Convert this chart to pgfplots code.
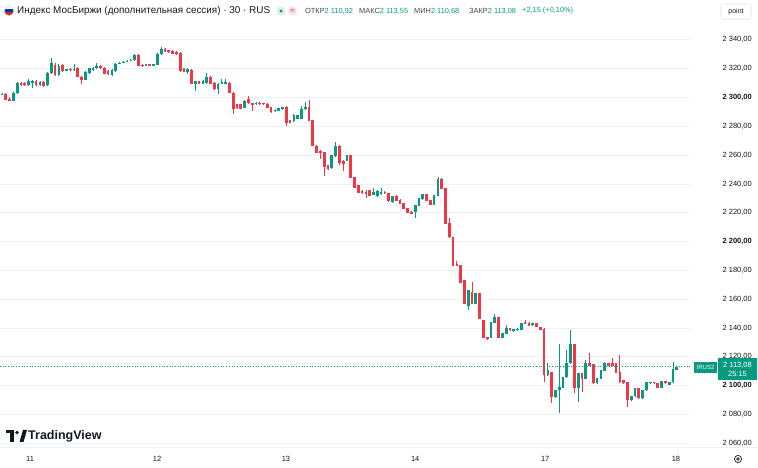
\documentclass[border=0pt]{standalone}
\usepackage{fontspec}
\setmainfont{Liberation Sans}
\usepackage{pgfplots}
\pgfplotsset{compat=1.18}
\usepackage{pgfplotstable}
\definecolor{up}{HTML}{089981}
\definecolor{dn}{HTML}{F23645}
\definecolor{txt}{HTML}{131722}
\definecolor{grd}{HTML}{EEF1F6}
\definecolor{lbl}{HTML}{434651}
\definecolor{rublue}{HTML}{0039A6}
\definecolor{rured}{HTML}{D52B1E}
\definecolor{upbg}{HTML}{D9F0EC}
\definecolor{dnbg}{HTML}{FCE3E6}

\pgfplotstableread{
i o h l c
0 2302 2303 2301.5 2302.5
1 2302.5 2303 2298 2298.5
2 2299 2300 2297.5 2297.8
3 2298 2303.5 2297.5 2303
4 2303 2311 2302.5 2310.2
5 2310.2 2311 2308.3 2308.8
6 2310 2311 2308.3 2308.8
7 2308.8 2312.5 2308 2311.6
8 2310 2312.3 2306.7 2311
9 2311 2311.8 2308.3 2308.8
10 2308.8 2311.5 2308 2310.8
11 2310.8 2311.5 2307 2308
12 2308.5 2317.5 2308 2317.1
13 2317.1 2327.5 2316.5 2324.1
14 2322.7 2324 2315 2315.7
15 2315.7 2323 2315 2322
16 2322.7 2323.5 2318 2318.5
17 2318.8 2320 2318.3 2319.5
18 2319.5 2320.2 2318.6 2319
19 2319 2323.4 2318.5 2319.5
20 2320 2321 2314 2314.4
21 2314.4 2315 2309.5 2312
22 2312.5 2318.5 2312 2317.8
23 2317.1 2320.5 2316.5 2320
24 2319 2321 2318.5 2320.6
25 2320.6 2324.1 2320 2322
26 2322 2322.6 2320 2320.6
27 2320.6 2321 2316 2316.4
28 2318.5 2319 2315.5 2316.4
29 2315.7 2319.8 2315.2 2319.2
30 2318.5 2324 2318 2323.4
31 2323.4 2324.6 2323 2324.1
32 2324.1 2325.2 2323.6 2324.8
33 2324.8 2325.8 2324.4 2325.4
34 2325.4 2326.5 2325 2326.1
35 2326 2330 2325.5 2329.3
36 2329.6 2330.2 2321.5 2322.2
37 2322.7 2323.2 2321.2 2322.2
38 2322.2 2323 2322 2322.8
39 2322.8 2323.3 2322.1 2322.3
40 2322.3 2323.5 2322 2322.9
41 2322.9 2330.8 2322.5 2330.3
42 2330.3 2335.1 2329.8 2333.8
43 2333.8 2334.5 2331.5 2332
44 2332.5 2333.2 2331 2331.5
45 2332 2332.7 2330 2330.5
46 2331.5 2332 2329.6 2330
47 2331 2331.5 2318 2318.5
48 2320 2320.5 2317.5 2318
49 2318 2320.5 2316.4 2319.5
50 2319 2319.5 2309 2309.5
51 2309.5 2311.6 2304.7 2311
52 2311 2311.6 2309 2309.5
53 2309.5 2312 2309 2311.5
54 2310 2317 2309.6 2314.4
55 2314 2314.6 2309 2309.5
56 2310 2310.5 2305.5 2306
57 2306 2310 2302.6 2309.5
58 2309.5 2313 2309 2310.5
59 2309.5 2313 2309 2310.5
60 2310 2310.5 2302.8 2303.3
61 2303.3 2303.8 2288.7 2292.2
62 2295 2295.5 2292 2292.5
63 2295 2295.5 2291.7 2292.2
64 2293 2298.2 2292.5 2297.7
65 2299 2301 2295.5 2296
66 2296 2296.5 2290.8 2295
67 2295.5 2296.6 2295 2296
68 2296 2296.6 2295 2295.5
69 2296 2296.5 2295 2295.5
70 2295.5 2296 2292.5 2293
71 2293 2293.5 2289.5 2290
72 2290.5 2292 2290 2291.5
73 2291 2293 2290.5 2292.5
74 2292 2293.6 2291.5 2293
75 2293 2294 2280 2282.5
76 2284 2284.5 2282 2282.5
77 2283.5 2288.5 2283 2288
78 2285.5 2288 2285 2287.5
79 2285.3 2294.3 2285 2292.2
80 2292 2297 2291.5 2293.5
81 2293.5 2298.5 2283.5 2283.9
82 2283.9 2284.3 2266 2266.5
83 2266.5 2267 2261.2 2261.7
84 2263 2263.5 2257.5 2261.5
85 2261.7 2262.2 2245.8 2252
86 2252.7 2253.2 2250 2250.6
87 2251 2260 2250.5 2259.6
88 2259.6 2269.3 2259 2266.5
89 2266.5 2267 2253 2254.8
90 2256 2256.5 2249 2254
91 2256.1 2260.2 2255.6 2259.6
92 2259.6 2260.1 2244 2244.4
93 2244.4 2244.9 2237 2237.4
94 2238.8 2239.3 2233.5 2234
95 2235 2235.5 2233 2233.5
96 2234 2236 2230.5 2233
97 2235.4 2235.9 2231.5 2232
98 2232.7 2237.5 2232.2 2234.4
99 2231.6 2235.5 2231.1 2235
100 2233 2237 2232.5 2234.5
101 2234.5 2235 2233 2233.5
102 2233.5 2234 2227.5 2228
103 2227.5 2231.9 2227 2231.4
104 2231.5 2232 2228 2228.5
105 2229 2229.5 2225.8 2226.3
106 2226.3 2226.8 2222.4 2222.9
107 2222.9 2223.4 2219.5 2220
108 2220.5 2221 2219 2219.5
109 2220.8 2225.5 2216.6 2225
110 2225 2230.3 2224.5 2229.8
111 2229.5 2233.1 2229 2232.6
112 2232.6 2233.1 2227.9 2228.4
113 2228.4 2228.9 2225.1 2225.6
114 2225.6 2232.4 2225.1 2231.9
115 2231.9 2245 2231.4 2243.5
116 2243.5 2244 2236.3 2236.8
117 2236.8 2237.3 2212 2212.5
118 2212.5 2216 2202.5 2203
119 2203 2203.5 2183 2183.4
120 2184.5 2186.8 2183 2183.4
121 2183.4 2183.9 2171.1 2171.6
122 2173 2173.5 2156.5 2157
123 2155.7 2166.6 2152.2 2166.1
124 2164.7 2171.6 2156.5 2157
125 2157 2164.5 2156.5 2164
126 2164 2164.5 2146.2 2146.7
127 2145.3 2145.8 2133 2133.5
128 2133.5 2134 2131.4 2132.8
129 2133.5 2144.4 2133 2143.9
130 2143.9 2150 2143.4 2147.4
131 2147.4 2147.9 2133 2133.5
132 2133.5 2136.8 2133 2136.3
133 2136.3 2141.8 2135.8 2139.7
134 2139.7 2140.2 2138 2138.5
135 2138 2139.5 2137.5 2139
136 2138.5 2140 2138 2139.5
137 2139 2143.7 2138.5 2143.2
138 2143.9 2145.3 2142.7 2143.2
139 2143.5 2144 2141.3 2141.8
140 2142 2143.5 2141.5 2143
141 2143 2143.5 2140.6 2141.1
142 2140.5 2141 2138.5 2139
143 2139.5 2140 2102.3 2107.2
144 2107.2 2115.5 2106.7 2110.6
145 2109.2 2109.7 2087.7 2091.9
146 2091.9 2097.3 2091.4 2096.8
147 2096.8 2128.6 2080.8 2098.8
148 2098.8 2106.3 2098.3 2105.8
149 2105.8 2124.5 2105.3 2115.5
150 2115.5 2138.3 2115 2128.6
151 2128.6 2129.1 2094.7 2098.8
152 2098.8 2109 2088.4 2108.5
153 2108.5 2109 2095.4 2105
154 2105 2118 2104.5 2115.5
155 2115.5 2122.4 2113.5 2114
156 2114.8 2115.3 2101.1 2101.6
157 2101.6 2105.5 2101.1 2105
158 2105 2111.1 2104.5 2110.6
159 2110.6 2116.5 2110.1 2115.5
160 2115.5 2116 2113.5 2114
161 2115.5 2119 2113.5 2114
162 2115.5 2116 2108.7 2109.2
163 2109.2 2121 2101.8 2102.3
164 2103.7 2104.2 2101.1 2101.6
165 2102.3 2102.8 2085 2089.8
166 2089.8 2093.1 2089.3 2092.6
167 2092.6 2098.6 2092.1 2098.1
168 2098.1 2098.6 2090.7 2091.2
169 2091.2 2097.3 2090.7 2096.8
170 2096.8 2102.8 2096.3 2102.3
171 2101.6 2102.8 2101.1 2102.3
172 2102.3 2102.8 2101.1 2101.6
173 2101.6 2102.1 2098.3 2098.8
174 2098.8 2103.5 2098.3 2103
175 2103 2103.5 2101.1 2101.6
176 2100.9 2102.8 2100.4 2102.3
177 2102.3 2116.2 2101.8 2111.3
178 2110.92 2113.55 2110.68 2113.08
}\candles

\newcommand{\fs}[1]{\fontsize{#1bp}{#1bp}\selectfont}

\begin{document}
\begin{tikzpicture}
\useasboundingbox (0,-21bp) rectangle (758bp,447bp);
\begin{axis}[
  at={(0,0)}, anchor=south west,
  scale only axis, width=690bp, height=422bp,
  xmin=-0.53, xmax=181.5,
  ymin=2057.4, ymax=2350.3,
  axis line style={draw=none},
  major tick length=0pt,
  ytick={2060,2080,...,2340},
  yticklabels={{2 060,00},{2 080,00},{\textbf{2 100,00}},{2 120,00},{2 140,00},{2 160,00},{2 180,00},{\textbf{2 200,00}},{2 220,00},{2 240,00},{2 260,00},{2 280,00},{\textbf{2 300,00}},{2 320,00},{2 340,00}},
  yticklabel pos=right,
  yticklabel style={anchor=east, inner sep=0pt, xshift=62bp, font=\fs{7.5}, text=txt},
  xtick={7.4,40.9,74.9,109,143.3,177.8},
  xticklabels={11,12,13,14,17,18},
  xticklabel style={anchor=center, inner sep=0pt, yshift=-12bp, font=\fs{7.5}, text=txt},
  ymajorgrids,
  major grid style={color=grd, line width=0.8bp},
]
% wicks
\addplot[forget plot, mark=none, draw=up, line width=0.8bp,
  restrict expr to domain={\thisrow{c}-\thisrow{o}}{0:10000},
  quiver={u=0, v=\thisrow{h}-\thisrow{l}}]
  table[x=i, y=l] {\candles};
\addplot[forget plot, mark=none, draw=dn, line width=0.8bp,
  restrict expr to domain={\thisrow{o}-\thisrow{c}}{0.0001:10000},
  quiver={u=0, v=\thisrow{h}-\thisrow{l}}]
  table[x=i, y=l] {\candles};
% bodies
\addplot[forget plot, mark=none, draw=up, line width=2.7bp,
  restrict expr to domain={\thisrow{c}-\thisrow{o}}{0:10000},
  quiver={u=0, v=\thisrow{c}-\thisrow{o}+0.25}]
  table[x=i, y expr=\thisrow{o}-0.125] {\candles};
\addplot[forget plot, mark=none, draw=dn, line width=2.7bp,
  restrict expr to domain={\thisrow{o}-\thisrow{c}}{0.0001:10000},
  quiver={u=0, v=\thisrow{o}-\thisrow{c}+0.25}]
  table[x=i, y expr=\thisrow{c}-0.125] {\candles};
% last price line
\addplot[up, dotted, line width=0.7bp, forget plot] coordinates {(-0.53,2113.08) (181.5,2113.08)};
\end{axis}

% bottom separator
\draw[color=grd, line width=0.8bp] (0,0) -- (758bp,0);

% header: flag
\begin{scope}
\clip (9bp,436bp) circle (4.6bp);
\fill[white] (4bp,437.5bp) rectangle (14bp,441bp);
\fill[rublue] (4bp,434.5bp) rectangle (14bp,437.5bp);
\fill[rured] (4bp,431bp) rectangle (14bp,434.5bp);
\end{scope}
\draw[gray!40, line width=0.3bp] (9bp,436bp) circle (4.6bp);
\node[anchor=west, inner sep=0pt, text=txt, font=\fs{9.9}] at (17bp,436bp) {Индекс МосБиржи (дополнительная сессия) · 30 · RUS};
% status icons
\fill[upbg] (281bp,436bp) circle (4.6bp);
\fill[up] (281bp,436bp) circle (1.7bp);
\fill[dnbg] (292.5bp,436bp) circle (4.6bp);
\node[inner sep=0pt, text=dn, font=\fs{8.5}] at (292.5bp,436bp) {≈};
% OHLC
\node[anchor=west, inner sep=0pt, text=lbl, font=\fs{7.4}] at (305bp,436bp) {ОТКР\textcolor{up}{2 110,92}};
\node[anchor=west, inner sep=0pt, text=lbl, font=\fs{7.4}] at (359bp,436bp) {МАКС\textcolor{up}{2 113,55}};
\node[anchor=west, inner sep=0pt, text=lbl, font=\fs{7.4}] at (414bp,436bp) {МИН\textcolor{up}{2 110,68}};
\node[anchor=west, inner sep=0pt, text=lbl, font=\fs{7.4}] at (469bp,436bp) {ЗАКР\textcolor{up}{2 113,08}};
\node[anchor=west, inner sep=0pt, text=up, font=\fs{7.4}] at (522bp,436bp) {+2,15 (+0,10\%)};
% unit box
\draw[gray!25, line width=0.6bp, rounded corners=1.5bp] (721bp,428bp) rectangle (751bp,443bp);
\node[inner sep=0pt, text=txt, font=\fs{7}] at (736bp,435.5bp) {point};
% price labels on right
\fill[up] (694bp,74bp) rectangle (717bp,85bp);
\node[inner sep=0pt, text=white, font=\fs{6}] at (705.5bp,79.5bp) {IRUS2};
\fill[up] (718bp,67bp) rectangle (757bp,89bp);
\node[inner sep=0pt, text=white, font=\fs{7.5}] at (737.5bp,82bp) {2 113,08};
\node[inner sep=0pt, text=white, font=\fs{7.5}] at (737.5bp,73bp) {25:15};
% TradingView logo
\fill[txt] (6bp,14bp) rectangle (14bp,17bp);
\fill[txt] (10bp,5bp) rectangle (13.5bp,17bp);
\fill[txt] (17bp,14.5bp) circle (1.9bp);
\fill[txt] (19.5bp,5bp) -- (23.5bp,5bp) -- (27bp,17bp) -- (23bp,17bp) -- cycle;
\node[anchor=west, inner sep=0pt, text=txt, font=\fs{12.5}\bfseries] at (28bp,10.5bp) {TradingView};
% settings icon
\draw[txt, line width=0.7bp] (738bp,-12bp) circle (3.6bp);
\draw[txt, line width=0.7bp] (738bp,-12bp) circle (1.3bp);
\end{tikzpicture}
\end{document}
